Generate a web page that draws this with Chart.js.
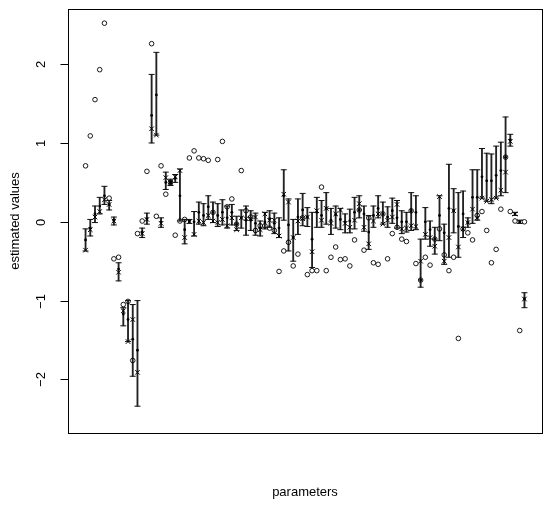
<!DOCTYPE html>
<html>
<head>
<meta charset="utf-8">
<script src="https://cdn.jsdelivr.net/npm/chart.js@4.4.1/dist/chart.umd.min.js"></script>
<style>
  html, body { margin: 0; padding: 0; background: #fff; }
  #wrap { width: 550px; height: 506px; }
</style>
</head>
<body>
<div id="wrap"><canvas id="chart" width="550" height="506"></canvas></div>
<script>
// estimates (filled dots), per parameter
const est = [
  -0.23, -0.08, 0.10, 0.20, 0.33, 0.22, 0.02, -0.60, -1.17, -1.24,
  -1.49, -1.63, -0.13, 0.04, 1.35, 1.61, 0.00, 0.50, 0.50, 0.55,
  0.33, -0.10, 0.01, 0.00, 0.12, 0.08, 0.19, 0.12, 0.08, 0.12,
  0.05, 0.12, -0.03, 0.05, 0.02, 0.02, -0.02, -0.08, 0.00, 0.04,
  -0.02, -0.08, 0.33, -0.04, -0.20, 0.06, 0.15, 0.06, -0.22, 0.12,
  0.08, 0.17, 0.02, 0.09, 0.03, 0.00, 0.01, 0.12, 0.15, 0.10,
  -0.13, 0.08, 0.17, 0.10, 0.06, 0.14, 0.05, 0.00, 0.00, 0.14,
  0.12, -0.74, 0.00, -0.10, -0.22, 0.08, -0.14, 0.17, 0.14, -0.06,
  0.10, -0.01, 0.31, 0.31, 0.57, 0.52, 0.52, 0.59, 0.65, 0.82,
  1.04, 0.10, 0.00, -0.98
];
// true values (x markers)
const truth = [
  -0.36, -0.10, 0.06, 0.13, 0.28, 0.22, 0.01, -0.64, -1.13, -1.52,
  -1.24, -1.91, -0.15, 0.03, 1.18, 1.10, -0.02, 0.56, 0.50, 0.57,
  0.65, -0.20, 0.00, -0.16, 0.01, -0.01, 0.08, 0.01, -0.01, 0.03,
  -0.05, 0.05, -0.10, 0.05, 0.04, 0.04, 0.06, -0.10, 0.10, 0.02,
  0.02, -0.18, 0.35, 0.25, -0.20, 0.01, 0.04, 0.06, -0.38, 0.14,
  0.02, 0.17, -0.02, 0.10, 0.15, -0.02, -0.07, 0.02, 0.23, -0.07,
  -0.28, 0.01, 0.10, -0.03, 0.02, 0.06, 0.22, -0.09, -0.08, -0.05,
  -0.06, -0.50, -0.16, -0.20, -0.31, 0.32, -0.50, -0.20, 0.14, -0.32,
  -0.09, -0.01, 0.16, 0.05, 0.30, 0.26, 0.28, 0.30, 0.40, 0.63,
  1.02, 0.10, 0.00, -0.98
];
// interval bounds
const lower = [
  -0.37, -0.18, -0.01, 0.10, 0.22, 0.15, -0.04, -0.75, -1.32, -1.52,
  -1.96, -2.34, -0.20, -0.03, 1.00, 1.10, -0.07, 0.41, 0.46, 0.50,
  0.01, -0.28, -0.02, -0.18, -0.03, -0.05, 0.03, -0.01, -0.06, -0.04,
  -0.08, -0.04, -0.11, -0.08, -0.17, -0.11, -0.17, -0.18, -0.09, -0.07,
  -0.15, -0.20, 0.02, -0.37, -0.50, -0.16, -0.05, -0.06, -0.58, -0.07,
  -0.07, -0.03, -0.16, -0.08, -0.10, -0.14, -0.14, -0.09, 0.05, -0.12,
  -0.35, -0.07, 0.05, -0.03, -0.07, -0.02, -0.08, -0.15, -0.13, -0.11,
  -0.10, -0.83, -0.22, -0.31, -0.41, -0.24, -0.54, -0.45, -0.14, -0.45,
  -0.20, -0.07, -0.02, 0.02, 0.30, 0.26, 0.23, 0.30, 0.33, 0.37,
  0.96, 0.08, -0.02, -1.09
];
const upper = [
  -0.09, 0.03, 0.20, 0.31, 0.45, 0.27, 0.06, -0.52, -1.09, -1.00,
  -1.05, -1.00, -0.08, 0.11, 1.87, 2.15, 0.05, 0.63, 0.54, 0.60,
  0.67, 0.03, 0.03, 0.13, 0.25, 0.23, 0.33, 0.25, 0.23, 0.28,
  0.20, 0.22, 0.07, 0.15, 0.20, 0.14, 0.11, 0.01, 0.12, 0.14,
  0.11, 0.05, 0.66, 0.29, 0.03, 0.29, 0.36, 0.18, 0.12, 0.31,
  0.27, 0.37, 0.17, 0.20, 0.17, 0.10, 0.16, 0.31, 0.33, 0.20,
  0.08, 0.20, 0.33, 0.25, 0.19, 0.30, 0.27, 0.14, 0.12, 0.37,
  0.33, -0.22, 0.18, 0.01, -0.07, 0.33, -0.03, 0.73, 0.42, 0.37,
  0.39, 0.05, 0.66, 0.66, 0.93, 0.87, 0.86, 0.96, 1.01, 1.33,
  1.11, 0.12, 0.02, -0.90
];
// alternative estimates (open circles)
const alt = [
  0.71, 1.09, 1.55, 1.93, 2.52, 0.30, -0.47, -0.45, -1.05, -1.01,
  -1.76, -0.15, 0.01, 0.64, 2.26, 0.07, 0.71, 0.35, 0.50, -0.17,
  0.01, 0.03, 0.81, 0.90, 0.81, 0.80, 0.78, 0.12, 0.79, 1.02,
  0.19, 0.29, -0.03, 0.65, 0.14, 0.06, -0.11, -0.05, -0.05, -0.08,
  -0.11, -0.63, -0.37, -0.26, -0.56, -0.41, 0.05, -0.67, -0.62, -0.62,
  0.44, -0.62, -0.45, -0.32, -0.48, -0.47, -0.56, -0.23, 0.15, -0.36,
  0.05, -0.52, -0.54, 0.10, -0.47, -0.15, -0.07, -0.22, -0.25, 0.14,
  -0.53, -0.74, -0.45, -0.55, -0.22, -0.09, -0.42, -0.62, -0.45, -1.48,
  -0.09, -0.14, -0.23, 0.08, 0.13, -0.11, -0.52, -0.35, 0.16, 0.82,
  0.13, 0.01, -1.38, 0.00
];
const params = est.map((_, i) => i + 1);
const yTicks = [-2, -1, 0, 1, 2];
const xTitle = "parameters";
const yTitle = "estimated values";

const pts = (vals) => vals.map((v, i) => ({ x: params[i], y: v }));

const frame = {
  id: "frame",
  afterDraw(chart) {
    const { ctx, chartArea: a, scales } = chart;
    ctx.save();
    ctx.strokeStyle = "#000";
    ctx.lineWidth = 1;
    ctx.strokeRect(Math.round(a.left) + 0.5, Math.round(a.top) + 0.5,
      Math.round(a.right - a.left), Math.round(a.bottom - a.top));
    ctx.fillStyle = "#000";
    ctx.font = "13px 'Liberation Sans', Arial, sans-serif";
    ctx.textAlign = "center";
    ctx.textBaseline = "middle";
    yTicks.forEach((t) => {
      const y = Math.round(scales.y.getPixelForValue(t)) + 0.5;
      ctx.beginPath();
      ctx.moveTo(Math.round(a.left) + 0.5 - 8, y);
      ctx.lineTo(Math.round(a.left) + 0.5, y);
      ctx.stroke();
      ctx.save();
      ctx.translate(41, y);
      ctx.rotate(-Math.PI / 2);
      ctx.fillText(t < 0 ? "\u2212" + Math.abs(t) : String(t), 0, 0);
      ctx.restore();
    });
    ctx.save();
    ctx.translate(15, (a.top + a.bottom) / 2);
    ctx.rotate(-Math.PI / 2);
    ctx.fillText(yTitle, 0, 0);
    ctx.restore();
    ctx.fillText(xTitle, (a.left + a.right) / 2, 492);
    ctx.restore();
  },
};

new Chart(document.getElementById("chart"), {
  type: "scatter",
  data: {
    datasets: [
      {
        type: "bar",
        data: params.map((p, i) => ({ x: p, y: [lower[i], upper[i]] })),
        backgroundColor: "#222",
        barThickness: 1.2,
        grouped: false,
        order: 5,
      },
      {
        data: pts(lower),
        pointStyle: "line",
        radius: 3,
        borderColor: "#111",
        borderWidth: 1,
      },
      {
        data: pts(upper),
        pointStyle: "line",
        radius: 3,
        borderColor: "#111",
        borderWidth: 1,
      },
      {
        data: pts(truth),
        pointStyle: "crossRot",
        radius: 3.2,
        borderColor: "#000",
        borderWidth: 1,
      },
      {
        data: pts(est),
        pointStyle: "circle",
        radius: 1.4,
        backgroundColor: "#000",
        borderColor: "#000",
        borderWidth: 0,
      },
      {
        data: pts(alt),
        pointStyle: "circle",
        radius: 2.3,
        backgroundColor: "rgba(0,0,0,0)",
        borderColor: "#000",
        borderWidth: 0.9,
      },
    ],
  },
  options: {
    responsive: false,
    animation: false,
    events: [],
    layout: { padding: { left: 68, right: 8, top: 9, bottom: 73 } },
    plugins: { legend: { display: false }, tooltip: { enabled: false } },
    scales: {
      x: { type: "linear", display: false, min: -2.72, max: 97.72, offset: false },
      y: { type: "linear", display: false, min: -2.68, max: 2.70 },
    },
  },
  plugins: [frame],
});
</script>
</body>
</html>
